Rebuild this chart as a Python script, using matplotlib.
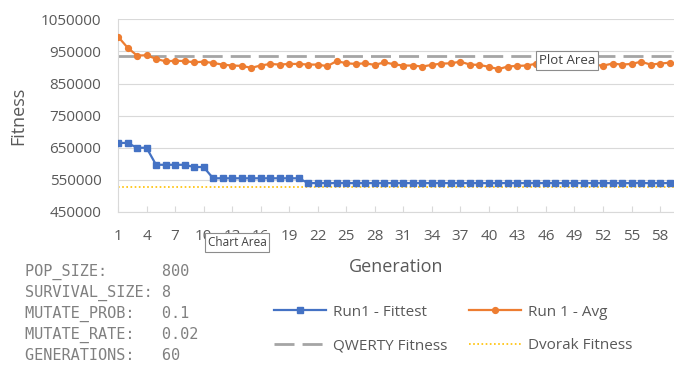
import matplotlib
matplotlib.use("Agg")
import matplotlib.pyplot as plt

generations = list(range(1, 61))
fittest = [665000, 665000, 650000, 650000, 597000, 597000, 597000, 597000, 590000, 590000,
           555000, 555000, 555000, 555000, 555000, 555000, 555000, 555000, 555000, 555000,
           540000, 540000, 540000, 540000, 540000, 540000, 540000, 540000, 540000, 540000,
           540000, 540000, 540000, 540000, 540000, 540000, 540000, 540000, 540000, 540000,
           540000, 540000, 540000, 540000, 540000, 540000, 540000, 540000, 540000, 540000,
           540000, 540000, 540000, 540000, 540000, 540000, 540000, 540000, 540000, 540000]
avg = [996000, 962000, 937000, 938000, 927000, 919000, 921000, 920000, 916000, 918000,
       914000, 909000, 906000, 905000, 899000, 906000, 911000, 909000, 911000, 911000,
       909000, 909000, 904000, 920000, 913000, 911000, 913000, 908000, 916000, 910000,
       906000, 906000, 903000, 908000, 912000, 913000, 918000, 909000, 908000, 902000,
       895000, 903000, 905000, 906000, 912000, 909000, 907000, 910000, 908000, 904000,
       908000, 906000, 912000, 909000, 911000, 918000, 909000, 912000, 915000, 911000]
qwerty_fitness = 935000
dvorak_fitness = 527000

y_ticks = [450000, 550000, 650000, 750000, 850000, 950000, 1050000]
x_ticks = list(range(1, 60, 3))

params = ["POP_SIZE:      800",
          "SURVIVAL_SIZE: 8",
          "MUTATE_PROB:   0.1",
          "MUTATE_RATE:   0.02",
          "GENERATIONS:   60"]

plt.rcParams['font.family'] = ['Open Sans', 'DejaVu Sans']
grid_c = '#d9d9d9'
text_c = '#595959'

fig = plt.figure(figsize=(6.74, 3.67), dpi=100)
ax = fig.add_axes([118 / 674, 1 - 212 / 367, 1 - 118 / 674, (212 - 19.3) / 367])

l1, = ax.plot(generations, fittest, color='#4472C4', lw=1.6, marker='s', ms=4.8,
              label='Run1 - Fittest', zorder=3)
l2, = ax.plot(generations, avg, color='#ED7D31', lw=1.6, marker='o', ms=4.2,
              label='Run 1 - Avg', zorder=3)
l3 = ax.axhline(qwerty_fitness, color='#A5A5A5', lw=2, dashes=(7.2, 2.9),
                label='QWERTY Fitness', zorder=2)
l4 = ax.axhline(dvorak_fitness, color='#FFC000', lw=1.2, dashes=(1, 1.5),
                label='Dvorak Fitness', zorder=2)

ax.set_xlim(1, 1 + 556 / 9.51)
ax.set_ylim(450000, 1050000)
ax.set_yticks(y_ticks)
ax.set_yticklabels([str(v) for v in y_ticks])
ax.set_xticks(x_ticks)
ax.set_xticklabels([str(v) for v in x_ticks])
ax.grid(axis='y', color=grid_c, lw=0.8)
ax.set_axisbelow(True)
for s in ['top', 'right']:
    ax.spines[s].set_visible(False)
for s in ['left', 'bottom']:
    ax.spines[s].set_color(grid_c)
    ax.spines[s].set_linewidth(0.8)
ax.tick_params(axis='x', direction='in', length=4, color=grid_c, labelsize=11,
               labelcolor=text_c, pad=12)
ax.tick_params(axis='y', length=0, labelsize=11, labelcolor=text_c, pad=12)

ax.set_ylabel('Fitness', fontsize=13, color=text_c, labelpad=10)
ax.set_xlabel('Generation', fontsize=13, color=text_c, labelpad=10)

for i, line in enumerate(params):
    fig.text(25 / 674, 1 - (271.7 + i * 20.9) / 367, line, family='DejaVu Sans Mono',
             fontsize=11, color='#808080', va='center', ha='left')

fig.legend([l1, l3, l2, l4], [h.get_label() for h in [l1, l3, l2, l4]],
           ncol=2, loc='center', bbox_to_anchor=(453 / 674, 1 - 329 / 367),
           frameon=False, fontsize=11, labelcolor=text_c, handlelength=3.4,
           handletextpad=0.45, columnspacing=1.4, labelspacing=1.2, borderpad=0)

box = dict(boxstyle='square,pad=0.25', facecolor='white', edgecolor='#8c8c8c', lw=0.8)
fig.text(237 / 674, 1 - 242.5 / 367, 'Chart Area', fontsize=8.5, color='#404040',
         ha='center', va='center', bbox=box)
fig.text(567 / 674, 1 - 60.5 / 367, 'Plot Area', fontsize=9.5, color='#404040',
         ha='center', va='center', bbox=box)

fig.savefig('out.png', dpi=100)
